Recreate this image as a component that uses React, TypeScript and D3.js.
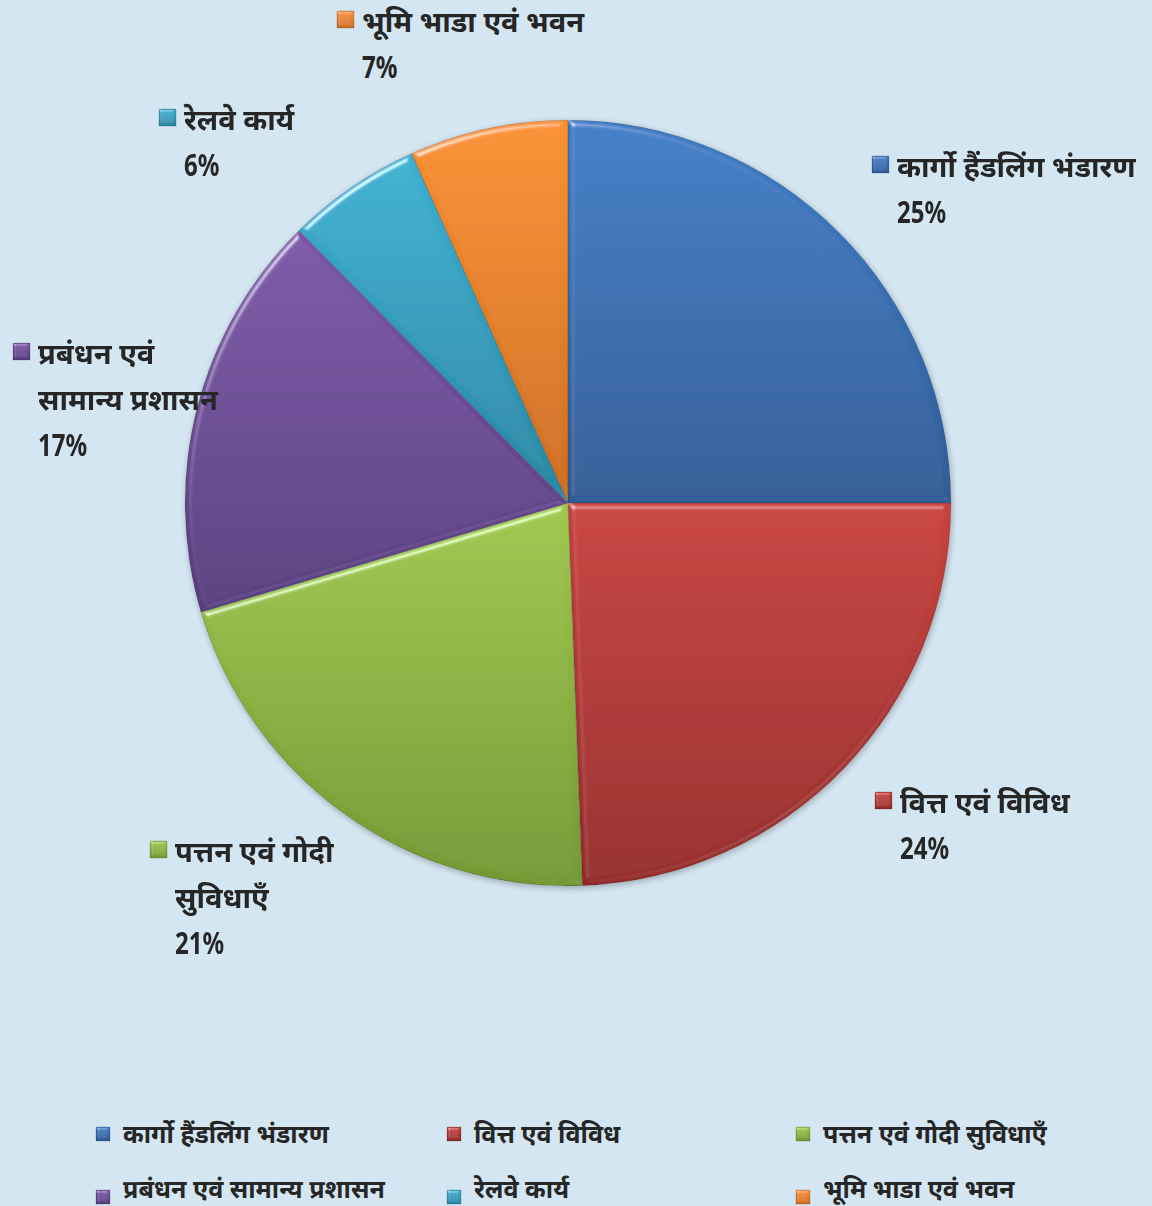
import React from 'react';
import * as d3 from 'd3';

const categories = [
  'कार्गो हैंडलिंग भंडारण',
  'वित्त एवं विविध',
  'पत्तन एवं गोदी सुविधाएँ',
  'प्रबंधन एवं सामान्य प्रशासन',
  'रेलवे कार्य',
  'भूमि भाडा एवं भवन',
];
const shares = [25.0, 24.4, 21.0, 17.2, 5.7, 6.7];
// how each data label is broken into lines
const labelLines = [
  ['कार्गो हैंडलिंग भंडारण'],
  ['वित्त एवं विविध'],
  ['पत्तन एवं गोदी', 'सुविधाएँ'],
  ['प्रबंधन एवं', 'सामान्य प्रशासन'],
  ['रेलवे कार्य'],
  ['भूमि भाडा एवं भवन'],
];

const colors = [
  ['#3e7dc6', '#2f5b96'],
  ['#c8403d', '#952826'],
  ['#9fc74b', '#739832'],
  ['#7b57a7', '#583c7e'],
  ['#3cb0d2', '#2786a3'],
  ['#fa902e', '#cd6d1d'],
];

// label anchor (left edge of text, first baseline) per slice
const labelPos: [number, number][] = [
  [897, 177],
  [900, 813],
  [175, 862],
  [38, 364],
  [184, 130],
  [362, 32],
];

const W = 1152;
const H = 1206;
const cx = 568;
const cy = 503;
const R = 383;
const font = "'Noto Sans', 'Noto Sans Devanagari', sans-serif";

export default function App() {
  const pie = d3.pie<number>().sort(null).startAngle(0).endAngle(2 * Math.PI);
  const arcs = pie(shares);
  const arc = d3.arc<d3.PieArcDatum<number>>().innerRadius(0).outerRadius(R);
  const total = d3.sum(shares);
  const fmt = (v: number) => `${Math.round((v / total) * 100)}%`;

  const legendCols = [96, 447, 796];
  const legendRows = [1143, 1198];

  return (
    <svg width={W} height={H} style={{ position: 'absolute', left: 0, top: 0, display: 'block' }}>
      <defs>
        {colors.map((c, i) => (
          <linearGradient key={i} id={`g${i}`} x1={0} y1={0} x2={0} y2={1}>
            <stop offset="0%" stopColor={c[0]} />
            <stop offset="100%" stopColor={c[1]} />
          </linearGradient>
        ))}
        <filter id="bevel" x="-5%" y="-5%" width="110%" height="110%">
          <feGaussianBlur in="SourceAlpha" stdDeviation="3" result="blur" />
          <feSpecularLighting in="blur" surfaceScale="4" specularConstant="0.6" specularExponent="40" lightingColor="#ffffff" result="spec">
            <feDistantLight azimuth={235} elevation={40} />
          </feSpecularLighting>
          <feComposite in="spec" in2="SourceAlpha" operator="in" result="specIn" />
          <feSpecularLighting in="blur" surfaceScale="4" specularConstant="0.5" specularExponent="40" lightingColor="#ffffff" result="dark">
            <feDistantLight azimuth={55} elevation={40} />
          </feSpecularLighting>
          <feComposite in="dark" in2="SourceAlpha" operator="in" result="darkIn" />
          <feComposite in="SourceGraphic" in2="specIn" operator="arithmetic" k1={0} k2={1} k3={1} k4={0} result="lit" />
          <feComposite in="lit" in2="darkIn" operator="arithmetic" k1={-0.5} k2={1} k3={0} k4={0} result="shaded" />
          <feComposite in="shaded" in2="SourceAlpha" operator="in" />
        </filter>
        <filter id="shadow" x="-10%" y="-10%" width="120%" height="120%">
          <feGaussianBlur in="SourceAlpha" stdDeviation="3" />
          <feOffset dx="1" dy="2" result="ob" />
          <feComponentTransfer><feFuncA type="linear" slope="0.3" /></feComponentTransfer>
          <feMerge><feMergeNode /><feMergeNode in="SourceGraphic" /></feMerge>
        </filter>
        <filter id="mbevel" x="-20%" y="-20%" width="140%" height="140%">
          <feGaussianBlur in="SourceAlpha" stdDeviation="1" result="blur" />
          <feSpecularLighting in="blur" surfaceScale="2" specularConstant="0.6" specularExponent="30" lightingColor="#ffffff" result="spec">
            <feDistantLight azimuth={235} elevation={40} />
          </feSpecularLighting>
          <feComposite in="spec" in2="SourceAlpha" operator="in" result="specIn" />
          <feComposite in="SourceGraphic" in2="specIn" operator="arithmetic" k1={0} k2={1} k3={1} k4={0} />
        </filter>
      </defs>
      <rect width={W} height={H} fill="#d4e6f1" />
      <g transform={`translate(${cx},${cy})`} filter="url(#shadow)">
        {arcs.map((a, i) => (
          <path key={i} d={arc(a) || ''} fill={`url(#g${i})`} filter="url(#bevel)" stroke="rgba(40,40,60,0.3)" strokeWidth={1} />
        ))}
      </g>
      {arcs.map((a, i) => {
        const [lx, ly] = labelPos[i];
        return (
          <g key={i} fontFamily={font} fontWeight="bold" fill="#262626">
            <rect x={lx - 25} y={ly - 21} width={17} height={17} fill={`url(#g${i})`} filter="url(#mbevel)" stroke="rgba(0,0,0,0.35)" strokeWidth={0.5} />
            {labelLines[i].map((t, j) => (
              <text key={j} x={lx} y={ly + j * 46} fontSize={29}>{t}</text>
            ))}
            <text
              transform={`translate(${lx},${ly + labelLines[i].length * 46}) scale(0.8,1)`}
              fontSize={30}
            >
              {fmt(a.data)}
            </text>
          </g>
        );
      })}
      {categories.map((c, i) => {
        const x = legendCols[i % 3];
        const y = legendRows[Math.floor(i / 3)];
        const my = i < 3 ? y - 16 : y - 8;
        return (
          <g key={c} fontFamily={font} fill="#262626">
            <rect x={x} y={my} width={14} height={14} fill={`url(#g${i})`} filter="url(#mbevel)" stroke="rgba(0,0,0,0.35)" strokeWidth={0.5} />
            <text x={x + 27} y={y} fontSize={25} fontWeight="bold">{c}</text>
          </g>
        );
      })}
    </svg>
  );
}
